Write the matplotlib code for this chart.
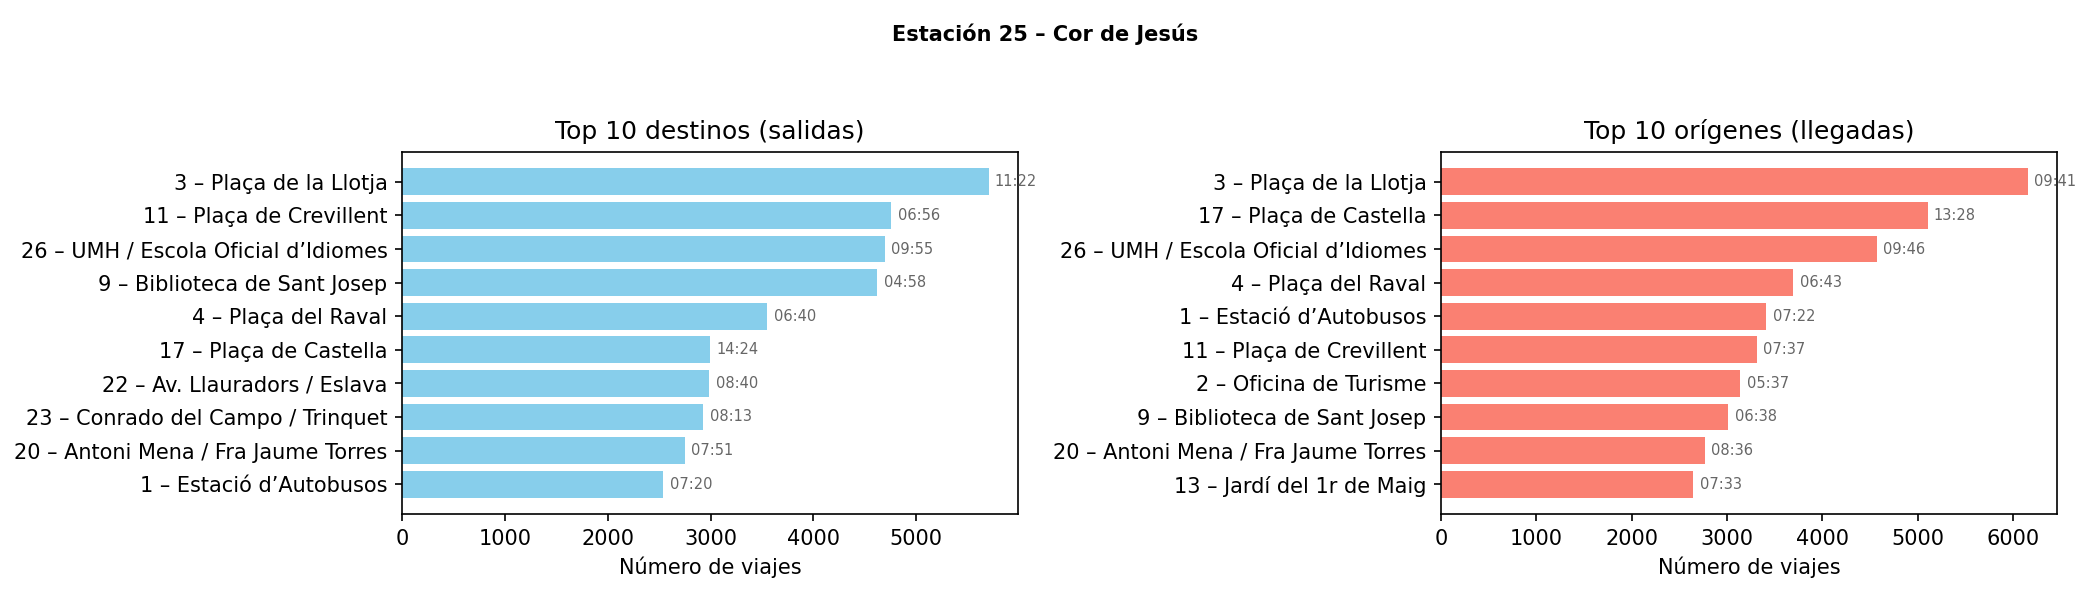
import matplotlib
matplotlib.use("Agg")
import matplotlib.pyplot as plt

suptitle = "Estación 25 – Cor de Jesús"

dest_names = [
    "3 – Plaça de la Llotja",
    "11 – Plaça de Crevillent",
    "26 – UMH / Escola Oficial d’Idiomes",
    "9 – Biblioteca de Sant Josep",
    "4 – Plaça del Raval",
    "17 – Plaça de Castella",
    "22 – Av. Llauradors / Eslava",
    "23 – Conrado del Campo / Trinquet",
    "20 – Antoni Mena / Fra Jaume Torres",
    "1 – Estació d’Autobusos",
]
dest_counts = [5705, 4758, 4693, 4623, 3553, 2996, 2988, 2930, 2754, 2541]
dest_times = ["11:22", "06:56", "09:55", "04:58", "06:40", "14:24", "08:40", "08:13", "07:51", "07:20"]

orig_names = [
    "3 – Plaça de la Llotja",
    "17 – Plaça de Castella",
    "26 – UMH / Escola Oficial d’Idiomes",
    "4 – Plaça del Raval",
    "1 – Estació d’Autobusos",
    "11 – Plaça de Crevillent",
    "2 – Oficina de Turisme",
    "9 – Biblioteca de Sant Josep",
    "20 – Antoni Mena / Fra Jaume Torres",
    "13 – Jardí del 1r de Maig",
]
orig_counts = [6152, 5103, 4570, 3695, 3413, 3309, 3139, 3013, 2771, 2646]
orig_times = ["09:41", "13:28", "09:46", "06:43", "07:22", "07:37", "05:37", "06:38", "08:36", "07:33"]

fig = plt.figure(figsize=(2090 / 150, 594 / 150), dpi=150)
ax1 = fig.add_axes([402 / 2090, 80 / 594, 616 / 2090, 362 / 594])
ax2 = fig.add_axes([1441 / 2090, 80 / 594, 616 / 2090, 362 / 594])

def draw(ax, names, counts, times, color, title):
    y = list(range(len(names)))[::-1]
    ax.barh(y, counts, color=color, height=0.8)
    ax.set_yticks(y)
    ax.set_yticklabels(names, fontsize=10)
    ax.set_title(title, fontsize=12)
    ax.set_xlabel("Número de viajes", fontsize=10)
    ax.tick_params(axis="x", labelsize=10)
    for yi, c, t in zip(y, counts, times):
        ax.annotate(t, xy=(c, yi), xytext=(3, 0), textcoords="offset points",
                    va="center", ha="left", fontsize=7, color="#666666")

draw(ax1, dest_names, dest_counts, dest_times, "skyblue", "Top 10 destinos (salidas)")
draw(ax2, orig_names, orig_counts, orig_times, "salmon", "Top 10 orígenes (llegadas)")

fig.suptitle(suptitle, fontsize=10, fontweight="bold", y=0.96)

fig.savefig("out.png", dpi=150)
